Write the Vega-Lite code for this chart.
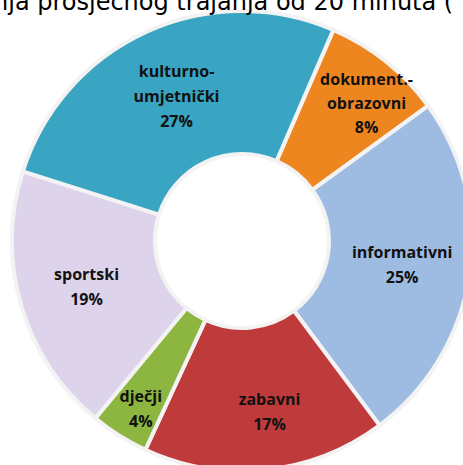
{
  "$schema": "https://vega.github.io/schema/vega-lite/v6.json",
  "width": 464,
  "height": 464,
  "autosize": "none",
  "padding": {"left": 10, "top": 9, "right": 0, "bottom": 0},
  "background": "white",
  "title": {
    "text": "nja prosječnog trajanja od 20 minuta (",
    "anchor": "start",
    "font": "DejaVu Sans",
    "fontSize": 24,
    "fontWeight": "normal",
    "color": "#000000",
    "baseline": "alphabetic",
    "offset": 0,
    "dx": -11,
    "dy": 31
  },
  "data": {
    "values": [
      {"kategorija": "dokument.-", "label": ["dokument.-", "obrazovni", "8%"], "udio": 8.5, "ord": 1},
      {"kategorija": "informativni", "label": ["informativni", "25%"], "udio": 24.8, "ord": 2},
      {"kategorija": "zabavni", "label": ["zabavni", "17%"], "udio": 17.1, "ord": 3},
      {"kategorija": "dječji", "label": ["dječji", "4%"], "udio": 4.1, "ord": 4},
      {"kategorija": "sportski", "label": ["sportski", "19%"], "udio": 18.9, "ord": 5},
      {"kategorija": "kulturno-umjetnički", "label": ["kulturno-", "umjetnički", "27%"], "udio": 26.6, "ord": 6}
    ]
  },
  "encoding": {
    "theta": {"field": "udio", "type": "quantitative", "stack": true, "scale": {"range": [0.4084, 6.6916]}},
    "order": {"field": "ord", "type": "quantitative"}
  },
  "layer": [
    {
      "mark": {"type": "arc", "innerRadius": 87, "outerRadius": 230, "stroke": "#f3f3f3", "strokeWidth": 4},
      "encoding": {
        "color": {
          "field": "kategorija",
          "type": "nominal",
          "legend": null,
          "scale": {
            "domain": ["dokument.-", "informativni", "zabavni", "dječji", "sportski", "kulturno-umjetnički"],
            "range": ["#EE8620", "#9EBCE2", "#BF3A3B", "#8CB640", "#DDD3EA", "#39A5C3"]
          }
        }
      }
    },
    {
      "mark": {"type": "text", "radius": 162, "dy": -12, "font": "Open Sans", "fontSize": 16, "fontWeight": "bold", "color": "#111111", "lineHeight": 25, "baseline": "middle"},
      "encoding": {"text": {"condition": {"test": "datum.ord == 2 || datum.ord == 5", "field": "label"}, "value": ""}}
    },
    {
      "mark": {"type": "text", "radius": 158, "dy": -25, "font": "Open Sans", "fontSize": 16, "fontWeight": "bold", "color": "#111111", "lineHeight": 25, "baseline": "middle"},
      "encoding": {"text": {"condition": {"test": "datum.ord == 6", "field": "label"}, "value": ""}}
    },
    {
      "mark": {"type": "text", "radius": 185, "thetaOffset": 0.063, "dy": -24, "font": "Open Sans", "fontSize": 16, "fontWeight": "bold", "color": "#111111", "lineHeight": 24, "baseline": "middle"},
      "encoding": {"text": {"condition": {"test": "datum.ord == 1", "field": "label"}, "value": ""}}
    },
    {
      "mark": {"type": "text", "radius": 173, "thetaOffset": -0.056, "dy": -12, "font": "Open Sans", "fontSize": 16, "fontWeight": "bold", "color": "#111111", "lineHeight": 25, "baseline": "middle"},
      "encoding": {"text": {"condition": {"test": "datum.ord == 3", "field": "label"}, "value": ""}}
    },
    {
      "mark": {"type": "text", "radius": 196, "thetaOffset": -0.02, "dy": -12, "font": "Open Sans", "fontSize": 16, "fontWeight": "bold", "color": "#111111", "lineHeight": 25, "baseline": "middle"},
      "encoding": {"text": {"condition": {"test": "datum.ord == 4", "field": "label"}, "value": ""}}
    }
  ]
}
